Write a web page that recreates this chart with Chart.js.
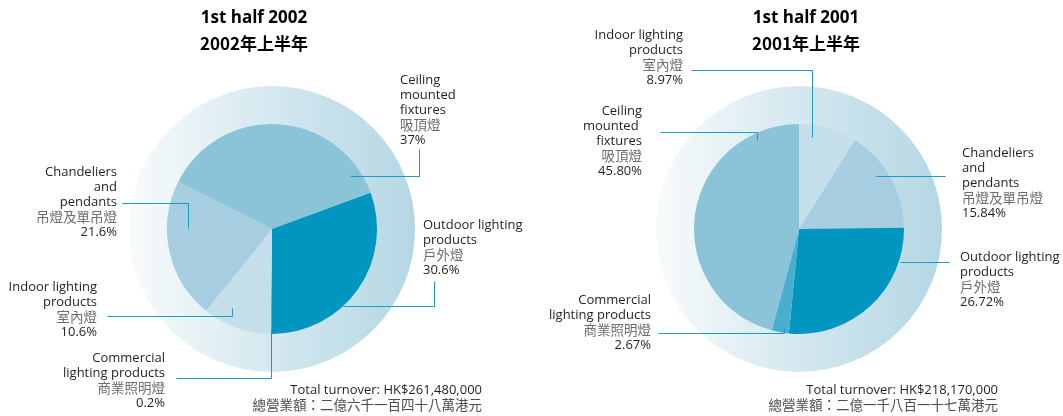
<!DOCTYPE html>
<html>
<head>
<meta charset="utf-8">
<script src="https://cdn.jsdelivr.net/npm/chart.js@4.4.1/dist/chart.umd.min.js"></script>
<style>
  html, body { margin: 0; padding: 0; background: #fff; }
  #wrap { position: relative; width: 1063px; height: 416px; }
  .box { position: absolute; top: 0; height: 416px; }
  #left { left: 0; width: 531px; }
  #right { left: 531px; width: 532px; }
</style>
</head>
<body>
<div id="wrap">
  <div class="box" id="left"><canvas id="c2002"></canvas></div>
  <div class="box" id="right"><canvas id="c2001"></canvas></div>
</div>
<script>
// 1st half 2002 (clockwise from 6 o'clock)
const keys2002 = ['commercial', 'indoor', 'chandeliers', 'ceiling', 'outdoor'];
const names2002 = [['Commercial', 'lighting products'], ['Indoor lighting', 'products'], ['Chandeliers', 'and', 'pendants'], ['Ceiling', 'mounted', 'fixtures'], ['Outdoor lighting', 'products']];
const zh2002 = ['商業照明燈', '室內燈', '吊燈及單吊燈', '吸頂燈', '戶外燈'];
const share2002 = [0.2, 10.6, 21.6, 37, 30.6];
const pct2002 = ['0.2%', '10.6%', '21.6%', '37%', '30.6%'];
const title2002 = ['1st half 2002', '2002年上半年'];
const total2002 = ['Total turnover: HK$261,480,000', '總營業額：二億六千一百四十八萬港元'];

// 1st half 2001 (clockwise from 12 o'clock)
const keys2001 = ['indoor', 'chandeliers', 'outdoor', 'commercial', 'ceiling'];
const names2001 = [['Indoor lighting', 'products'], ['Chandeliers', 'and', 'pendants'], ['Outdoor lighting', 'products'], ['Commercial', 'lighting products'], ['Ceiling', 'mounted ', 'fixtures']];
const zh2001 = ['室內燈', '吊燈及單吊燈', '戶外燈', '商業照明燈', '吸頂燈'];
const share2001 = [8.97, 15.84, 26.72, 2.67, 45.80];
const pct2001 = ['8.97%', '15.84%', '26.72%', '2.67%', '45.80%'];
const title2001 = ['1st half 2001', '2001年上半年'];
const total2001 = ['Total turnover: HK$218,170,000', '總營業額：二億一千八百一十七萬港元'];

const sliceColors = {
  ceiling: '#8bc3d8',
  outdoor: '#0096bf',
  chandeliers: '#a6cde0',
  indoor: '#c4dfea',
  commercial: '#4aaed0'
};

// label placement, relative to the pie centre: [dx, dy of first line, align], leader path
const layout2002 = {
  title: [-18, -211],
  total: [210, 161],
  ceiling:     { text: [128, -149, 'left'],  path: [[78, -53], [147, -53], [147, -80]] },
  outdoor:     { text: [151, -4, 'left'],    path: [[71, 77], [162, 77], [162, 52]] },
  chandeliers: { text: [-155, -57, 'right'], path: [[-84, -1], [-84, -26], [-150, -26]] },
  indoor:      { text: [-175, 58, 'right'],  path: [[-40, 79], [-40, 87], [-165, 87]] },
  commercial:  { text: [-107, 129, 'right'], path: [[-1, 101], [-1, 149], [-96, 149]] }
};
const layout2001 = {
  title: [7, -211],
  total: [199, 161],
  indoor:      { text: [-116, -194, 'right'], path: [[13, -92], [13, -159], [-108, -159]] },
  ceiling:     { text: [-157, -118, 'right'], path: [[-42, -89], [-42, -97], [-139, -97]] },
  chandeliers: { text: [163, -76, 'left'],    path: [[77, -53], [146, -53]] },
  outdoor:     { text: [161, 28, 'left'],     path: [[101, 33], [150, 33]] },
  commercial:  { text: [-148, 71, 'right'],   path: [[-15, 98], [-15, 104], [-141, 104]] }
};

const EN_FONT = '13px "Open Sans", "Noto Sans CJK TC", sans-serif';
const ZH_FONT = '13.5px "Noto Sans CJK TC", sans-serif';
const LINE = 15;

const callouts = {
  id: 'callouts',
  beforeDatasetsDraw(chart, args, opts) {
    const arc = chart.getDatasetMeta(0).data[0];
    const R = arc.outerRadius * opts.halo;
    const ctx = chart.ctx;
    const g = ctx.createLinearGradient(arc.x - R, 0, arc.x + R, 0);
    g.addColorStop(0, '#f8fbfc');
    g.addColorStop(0.5, '#d4e8ef');
    g.addColorStop(1, '#b4d7e4');
    ctx.save();
    ctx.beginPath();
    ctx.arc(arc.x, arc.y, R, 0, Math.PI * 2);
    ctx.fillStyle = g;
    ctx.fill();
    ctx.restore();
  },
  afterDatasetsDraw(chart, args, opts) {
    const arc = chart.getDatasetMeta(0).data[0];
    const cx = arc.x, cy = arc.y;
    const ctx = chart.ctx;
    const L = opts.layout;
    ctx.save();
    // leader lines
    ctx.strokeStyle = '#1a9cc4';
    ctx.lineWidth = 1;
    opts.keys.forEach((k) => {
      const p = L[k].path;
      ctx.beginPath();
      ctx.moveTo(cx + p[0][0] + 0.5, cy + p[0][1] + 0.5);
      for (let i = 1; i < p.length; i++) ctx.lineTo(cx + p[i][0] + 0.5, cy + p[i][1] + 0.5);
      ctx.stroke();
    });
    // labels
    ctx.textBaseline = 'middle';
    opts.keys.forEach((k, i) => {
      const t = L[k].text;
      ctx.textAlign = t[2];
      let y = cy + t[1];
      ctx.font = EN_FONT; ctx.fillStyle = '#231f20';
      opts.names[i].forEach((s) => { ctx.fillText(s, cx + t[0], y); y += LINE; });
      ctx.font = ZH_FONT; ctx.fillStyle = '#6d6e71';
      ctx.fillText(opts.zh[i], cx + t[0], y); y += LINE;
      ctx.font = EN_FONT; ctx.fillStyle = '#231f20';
      ctx.fillText(opts.pct[i], cx + t[0], y);
    });
    // title
    ctx.textAlign = 'center';
    ctx.fillStyle = '#000';
    ctx.font = 'bold 17px "Open Sans", sans-serif';
    ctx.fillText(opts.title[0], cx + L.title[0], cy + L.title[1]);
    ctx.font = 'bold 17px "Noto Sans CJK TC", sans-serif';
    ctx.fillText(opts.title[1], cx + L.title[0], cy + L.title[1] + 26);
    // total turnover
    ctx.textAlign = 'right';
    ctx.font = EN_FONT; ctx.fillStyle = '#231f20';
    ctx.fillText(opts.total[0], cx + L.total[0], cy + L.total[1]);
    ctx.font = ZH_FONT; ctx.fillStyle = '#4d4d4f';
    ctx.fillText(opts.total[1], cx + L.total[0], cy + L.total[1] + LINE);
    ctx.restore();
  }
};

function makePie(id, keys, names, zh, values, pct, title, total, rotation, layout, pad) {
  return new Chart(document.getElementById(id), {
    type: 'pie',
    data: {
      labels: names.map((n) => n.join(' ')),
      datasets: [{
        data: values,
        backgroundColor: keys.map((k) => sliceColors[k]),
        borderWidth: 0
      }]
    },
    options: {
      responsive: true,
      maintainAspectRatio: false,
      animation: false,
      rotation: rotation,
      radius: 105,
      layout: { padding: pad },
      plugins: {
        legend: { display: false },
        tooltip: { enabled: true },
        callouts: { halo: 1.362, keys, names, zh, pct, title, total, layout }
      }
    },
    plugins: [callouts]
  });
}

makePie('c2002', keys2002, names2002, zh2002, share2002, pct2002, title2002, total2002, 180, layout2002,
  { left: 13, right: 0, top: 42, bottom: 0 });
makePie('c2001', keys2001, names2001, zh2001, share2001, pct2001, title2001, total2001, 0, layout2001,
  { left: 4, right: 0, top: 42, bottom: 0 });
</script>
</body>
</html>
